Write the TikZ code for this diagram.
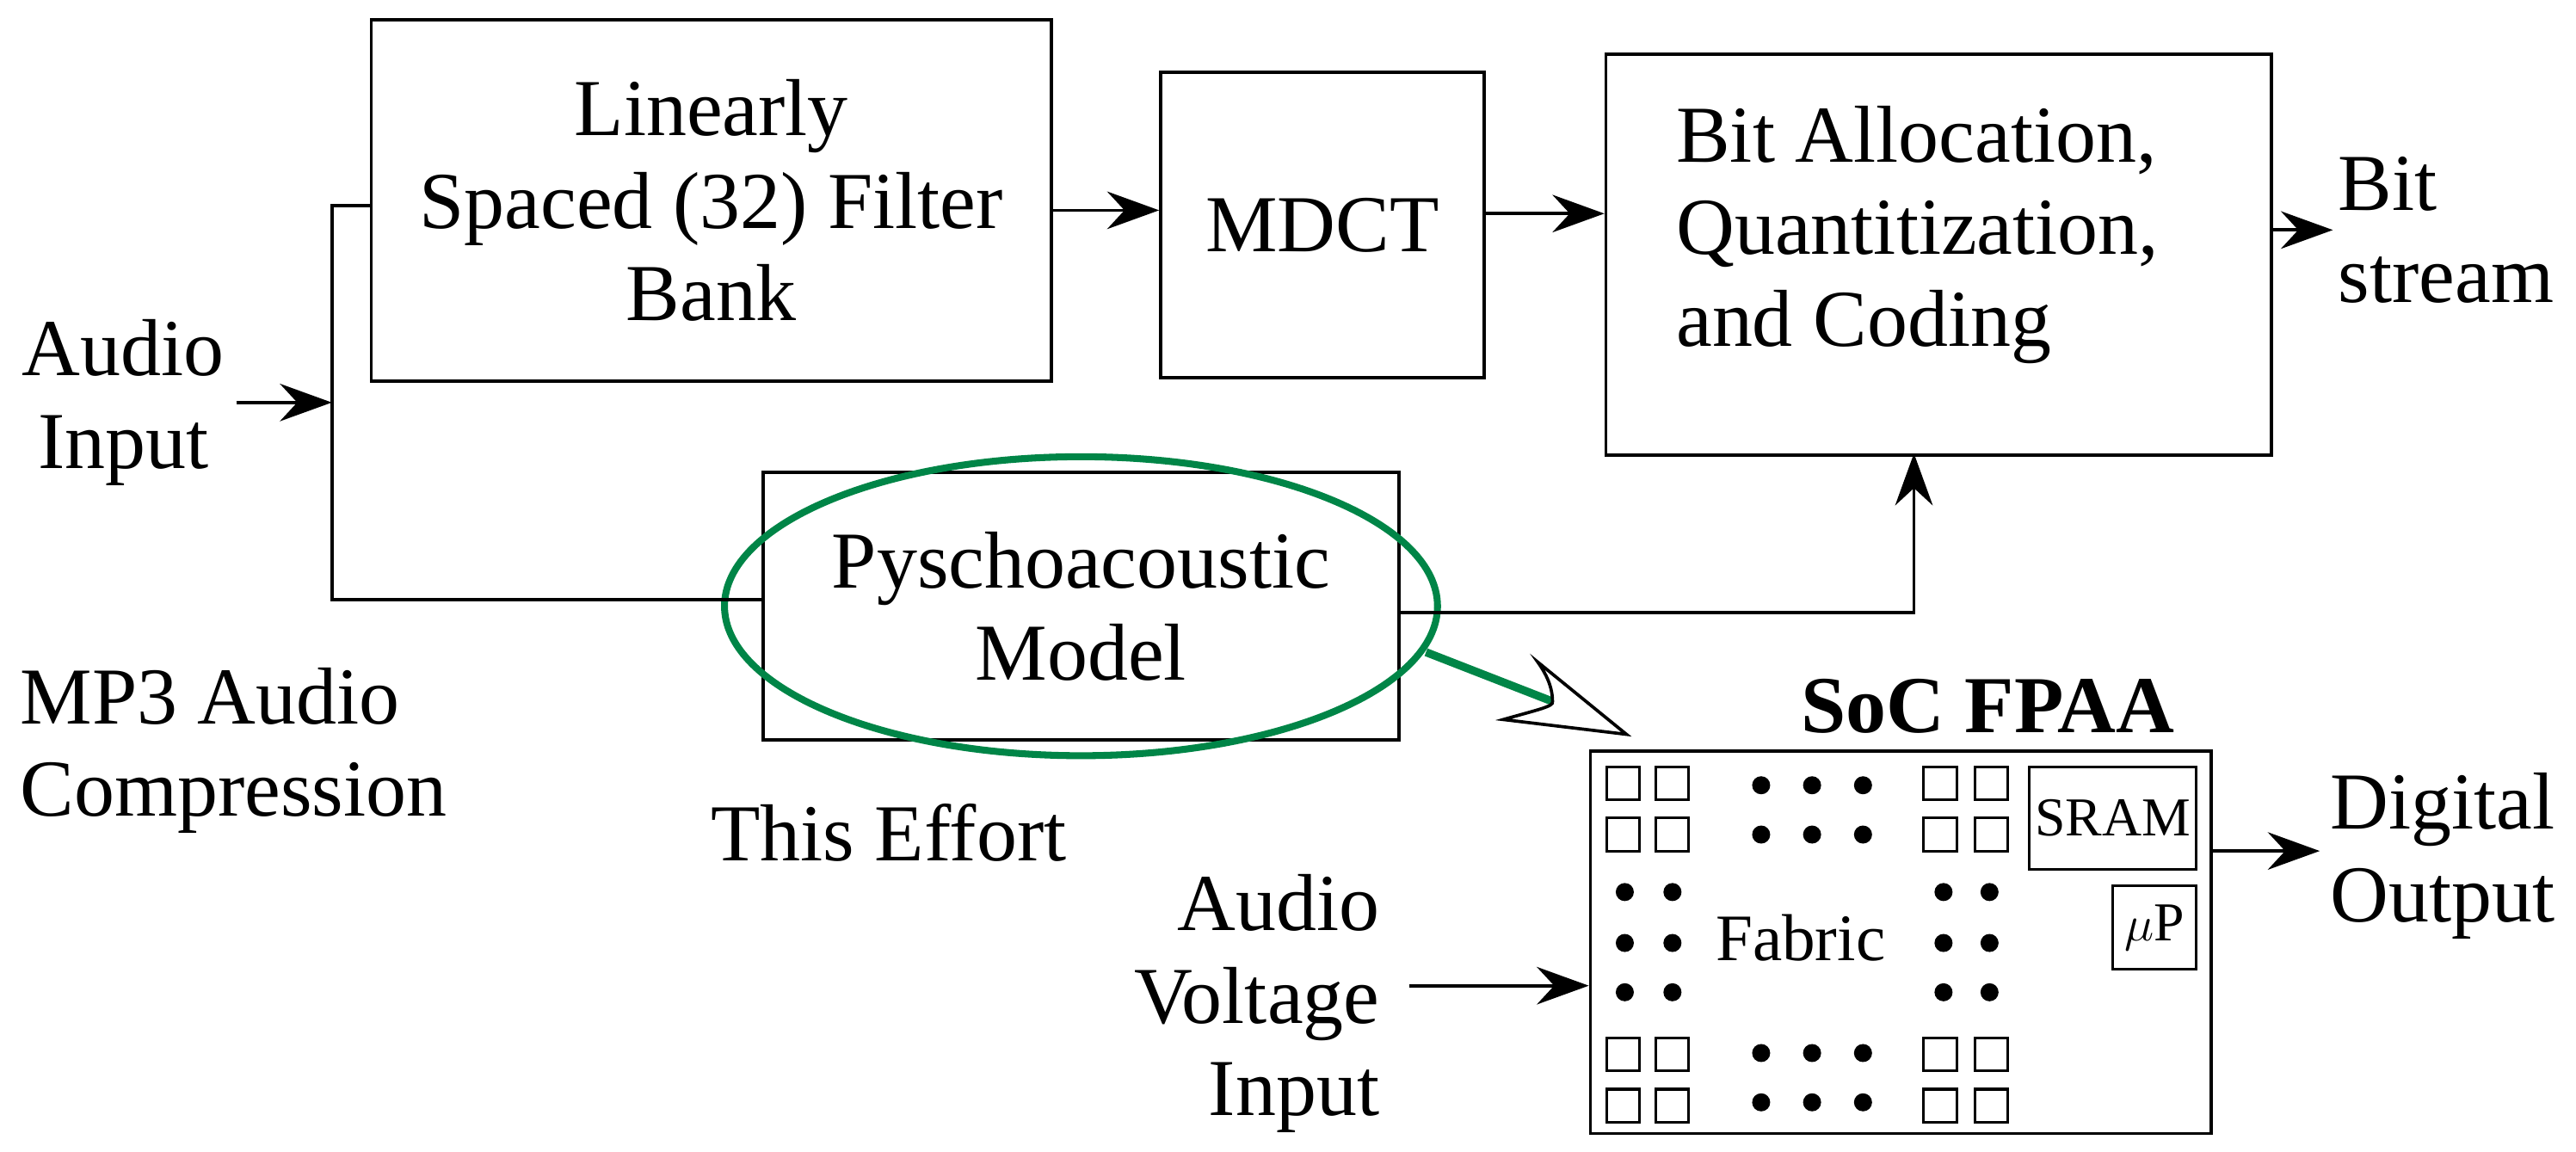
\documentclass[tikz,border=0pt]{standalone}
\usepackage{fontspec}
\setmainfont{Liberation Serif}
\usetikzlibrary{arrows.meta,positioning}
\definecolor{mygreen}{rgb}{0,0.52,0.28}
\tikzset{
  blk/.style={draw, line width=1.1pt, align=center, inner sep=0pt},
  txt/.style={align=center, inner sep=0pt, font=\fontsize{28}{32}\selectfont},
  sm/.style={draw, line width=0.9pt, minimum size=0.4cm, inner sep=0pt},
  dot/.style={circle, fill, minimum size=0.22cm, inner sep=0pt},
  wire/.style={line width=1.1pt},
  arr/.style={wire, -{Stealth[length=18pt,width=13pt,inset=6pt]}}
}
\begin{document}
\begin{tikzpicture}[x=0.02cm, y=-0.02cm]
\useasboundingbox (0,0) rectangle (1568,701);
% Main blocks
\node[blk, txt, minimum width=8.28cm, minimum height=4.4cm] (fb) at (433,122) {Linearly\\Spaced (32) Filter\\Bank};
\node[blk, txt, minimum width=3.94cm, minimum height=3.72cm] (mdct) at (805,137) {MDCT};
\node[blk, minimum width=8.1cm, minimum height=4.88cm] (bit) at (1180,155) {};
\node[txt, align=left, anchor=west] (bitt) at (1020,143) {Bit Allocation,\\Quantitization,\\and Coding};
\node[blk, txt, minimum width=7.74cm, minimum height=3.26cm] (psy) at (658,369) {Pyschoacoustic\\Model};
\draw[mygreen, line width=2.4pt] (psy.center) ellipse [x radius=217, y radius=91];

% Texts
\node[txt] (ain) at (75,245) {Audio\\Input};
\node[txt, align=left, anchor=west] (bs) at (1423,140) {Bit\\stream};
\node[txt, align=left, anchor=west] (mp3) at (12,457) {MP3 Audio\\Compression};
\node[txt] (eff) at (541,507) {This Effort};
\node[txt, align=right, anchor=east] (avi) at (840,611) {Audio\\Voltage\\Input};
\node[txt, align=left, anchor=west] (dout) at (1418,521) {Digital\\Output};

% FPAA
\node[txt, font=\fontsize{28}{32}\bfseries] (soc) at (1210,430) {SoC FPAA};
\node[blk, minimum width=7.56cm, minimum height=4.66cm] (fpaa) at (1157,573.5) {};
\node[sm, minimum width=2.04cm, minimum height=1.24cm, font=\fontsize{19}{22}\selectfont] (sram) at (1286,498) {SRAM};
\node[sm, minimum width=1.02cm, minimum height=1.02cm, font=\fontsize{19}{22}\selectfont] (up) at (1311.5,564.5) {$\mu$P};
\node[font=\fontsize{23}{26}\selectfont] (fab) at (1096,571) {Fabric};
\foreach \x in {988,1018,1181,1212}
  \foreach \y in {477,508,642,673}
    \node[sm] at (\x,\y) {};
\foreach \x in {1072,1103,1134}
  \foreach \y in {478,508,641,671}
    \node[dot] at (\x,\y) {};
\foreach \x in {989,1018,1183,1211}
  \foreach \y in {543,574,604}
    \node[dot] at (\x,\y) {};

% Connectors
\coordinate (j) at (202,245);
\draw[arr] (ain.east) ++(4pt,0) coordinate (ae) (ae) -- (j);
\draw[wire] (fb.west |- 0,125) -- (202,125) -- (202,365) -- (psy.west |- 0,365);
\draw[arr] (fb.east |- 0,128) -- (mdct.west |- 0,128);
\draw[arr] (mdct.east |- 0,130) -- (bit.west |- 0,130);
\draw[arr] (bit.east |- 0,140) -- (1420,140);
\draw[arr] (psy.east |- 0,373) -- (1165,373) -- (1165,276);
\draw[arr] (858,600) -- (fpaa.west |- 0,600);
\draw[arr] (fpaa.east |- 0,518) -- (1412,518);

% Green pointer
\draw[mygreen, line width=2.8pt] (868,397) -- (945,427);
\draw[line width=1.1pt, fill=white] (936,403) -- (990,447) -- (915,438) .. controls (936,432) and (946,430) .. (945,427) .. controls (945,418) and (941,410) .. cycle;
\end{tikzpicture}
\end{document}
